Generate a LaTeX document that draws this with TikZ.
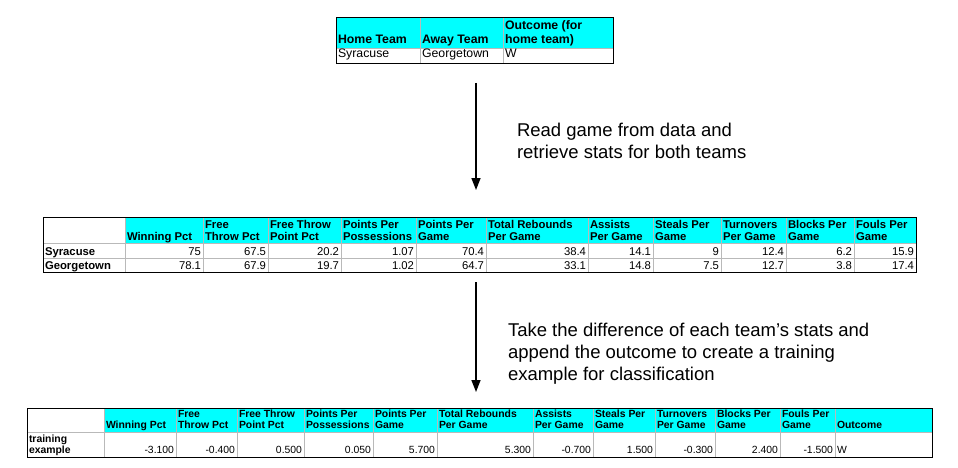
\documentclass[tikz,border=0pt]{standalone}
\usepackage{fontspec}
\setmainfont{Liberation Sans}
\usetikzlibrary{arrows.meta}
\definecolor{hdrcyan}{RGB}{0,255,255}
\definecolor{gridgray}{RGB}{185,185,185}
\tikzset{
  gridline/.style={draw=gridgray, line width=0.6pt},
  border/.style={draw=black, line width=0.8pt},
  cell/.style={inner sep=0pt, outer sep=0pt, align=left, text=black},
  thd/.style={cell, anchor=base west, font=\bfseries\fontsize{12.3}{14}\selectfont},
  tval/.style={cell, anchor=base west, font=\fontsize{12.3}{14}\selectfont},
  mhd/.style={cell, anchor=base west, font=\bfseries\fontsize{11.3}{12}\selectfont},
  mval/.style={cell, anchor=base east, font=\fontsize{11.3}{12}\selectfont},
  bhd/.style={cell, anchor=base west, font=\bfseries\fontsize{10.4}{11}\selectfont},
  bval/.style={cell, anchor=base east, font=\fontsize{10.4}{11}\selectfont},
  note/.style={cell, anchor=base west, font=\fontsize{18.5}{22}\selectfont},
  flow/.style={draw=black, line width=1.5pt, -{Triangle[width=9pt,length=12pt]}}
}
\begin{document}
\begin{tikzpicture}[x=1pt,y=-1pt]
\useasboundingbox (0,0) rectangle (958,468);

% ---------- top table ----------
\fill[hdrcyan] (336,17) rectangle (613,48);
\draw[gridline] (420,17) -- (420,63) (503,17) -- (503,63) (336,48) -- (613,48);
\draw[border] (336,17) rectangle (613,63);
\node[thd] (tHome) at (338,44) {Home Team};
\node[thd] (tAway) at (422,44) {Away Team};
\node[thd] (tOut) at (505,44) {Outcome (for\\home team)};
\node[tval] (tSyr) at (338,58) {Syracuse};
\node[tval] (tGeo) at (422,58) {Georgetown};
\node[tval] (tW) at (505,58) {W};

% ---------- arrow 1 ----------
\coordinate (a1s) at (476,83);
\coordinate (a1e) at (476,190);
\draw[flow] (a1s) -- (a1e);
\node[note] (n1) at (517,158) {Read game from data and\\retrieve stats for both teams};

% ---------- middle table ----------
\fill[hdrcyan] (125,217) rectangle (916,243);
\draw[gridline] (43,243) -- (916,243) (43,258) -- (916,258) (125,217) -- (125,272);
\foreach \xl/\xr/\txt/\va/\vb [count=\i] in {
  125/203/{Winning Pct}/75/78.1,
  203/268/{Free\\Throw Pct}/67.5/67.9,
  268/341/{Free Throw\\Point Pct}/20.2/19.7,
  341/416/{Points Per\\Possessions}/1.07/1.02,
  416/486/{Points Per\\Game}/70.4/64.7,
  486/588/{Total Rebounds\\Per Game}/38.4/33.1,
  588/653/{Assists\\Per Game}/14.1/14.8,
  653/721/{Steals Per\\Game}/9/7.5,
  721/786/{Turnovers\\Per Game}/12.4/12.7,
  786/854/{Blocks Per\\Game}/6.2/3.8,
  854/916/{Fouls Per\\Game}/15.9/17.4}{
  \draw[gridline] (\xr,217) -- (\xr,272);
  \node[mhd] (mh\i) at (\xl+2,240) {\txt};
  \node[mval] (mr\i) at (\xr-2,255) {\va};
  \node[mval] (ms\i) at (\xr-2,269) {\vb};
}
\draw[border] (43,217) rectangle (916,272);
\node[mhd] (mSyr) at (45,255) {Syracuse};
\node[mhd] (mGeo) at (45,269) {Georgetown};

% ---------- arrow 2 ----------
\coordinate (a2s) at (476,282);
\coordinate (a2e) at (476,392);
\draw[flow] (a2s) -- (a2e);
\node[note] (n2) at (508,380) {Take the difference of each team’s stats and\\append the outcome to create a training\\example for classification};

% ---------- bottom table ----------
\fill[hdrcyan] (104,408) rectangle (932,432);
\draw[gridline] (27,432) -- (932,432) (104,408) -- (104,457);
\foreach \xl/\xr/\txt/\va [count=\i] in {
  104/176/{Winning Pct}/-3.100,
  176/237/{Free\\Throw Pct}/-0.400,
  237/304/{Free Throw\\Point Pct}/0.500,
  304/373/{Points Per\\Possessions}/0.050,
  373/437/{Points Per\\Game}/5.700,
  437/533/{Total Rebounds\\Per Game}/5.300,
  533/593/{Assists\\Per Game}/-0.700,
  593/655/{Steals Per\\Game}/1.500,
  655/715/{Turnovers\\Per Game}/-0.300,
  715/780/{Blocks Per\\Game}/2.400,
  780/835/{Fouls Per\\Game}/-1.500}{
  \draw[gridline] (\xr,408) -- (\xr,457);
  \node[bhd] (bh\i) at (\xl+2,428) {\txt};
  \node[bval] (bv\i) at (\xr-2,453) {\va};
}
\draw[border] (27,408) rectangle (932,457);
\node[bhd] (bOutH) at (837,428) {Outcome};
\node[bhd] (bLab) at (29,453) {training\\example};
\node[bval, anchor=base west] (bOut) at (837,453) {W};
\end{tikzpicture}
\end{document}
